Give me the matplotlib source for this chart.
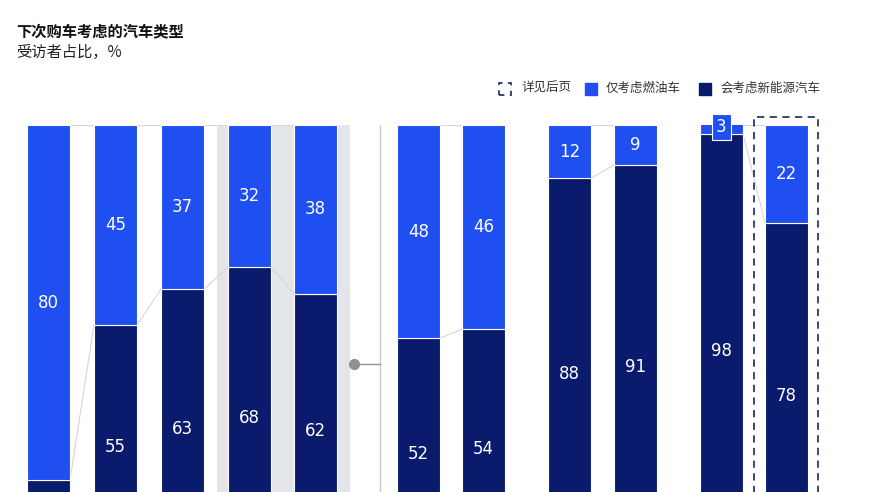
import matplotlib.pyplot as plt
from matplotlib.patches import Rectangle

plt.rcParams['font.family'] = ['Noto Sans CJK SC', 'DejaVu Sans']

# data: share of respondents (%)
fuel_only = [80, 45, 37, 32, 38, 48, 46, 12, 9, 3, 22]
new_energy = [20, 55, 63, 68, 62, 52, 54, 88, 91, 98, 78]
groups = [[0, 1, 2, 3, 4], [5, 6], [7, 8], [9, 10]]

title = "下次购车考虑的汽车类型"
subtitle = "受访者占比，%"
legend_labels = ["详见后页", "仅考虑燃油车", "会考虑新能源汽车"]

blue = "#1f4ff0"
navy = "#0a1a6c"

# bar centres in px / bar pitch
px = [48.5, 115.5, 182.5, 249.5, 315.5, 418.5, 483.5, 569.5, 635.5, 721.5, 786.5]
pitch = 66.5
xs = [(p - 48.5) / pitch for p in px]
w = 43 / pitch

W, H = 870, 492
fig = plt.figure(figsize=(W / 100, H / 100), dpi=100)
top_px, full_px = 125, 444
ax = fig.add_axes([0, (H - top_px - full_px) / H, 1, full_px / H])
ax.set_xlim(-48.5 / pitch, (W - 48.5) / pitch)
ax.set_ylim(0, 100)
ax.axis("off")

def xu(p):
    return (p - 48.5) / pitch

def yu(p):
    return 100 - (p - top_px) / (full_px / 100)

visible_bottom = yu(H)

# grey highlight behind bars 4-5
ax.add_patch(Rectangle((xu(217), 0), xu(350) - xu(217), yu(115), color="#e4e5e8", zorder=0, lw=0))

# separator
ax.plot([xu(380), xu(380)], [0, yu(115)], color="#c8c8c8", lw=1, zorder=1)
ax.plot([xu(354), xu(380)], [yu(364), yu(364)], color="#909090", lw=1, zorder=1)
ax.plot([xu(354)], [yu(364)], "o", color="#909090", ms=7, zorder=2)

ax.bar(xs, new_energy, width=w, color=navy, edgecolor="white", lw=0.8, zorder=3)
ax.bar(xs, fuel_only, width=w, bottom=new_energy, color=blue, edgecolor="white", lw=0.8, zorder=3)

# connectors
for g in groups:
    for a, b in zip(g[:-1], g[1:]):
        ax.plot([xs[a] + w / 2, xs[b] - w / 2], [100, 100], color="#d6d6d6", lw=0.8, zorder=2)
        ax.plot([xs[a] + w / 2, xs[b] - w / 2], [new_energy[a], new_energy[b]], color="#d6d6d6", lw=0.8, zorder=2)

for x, f, n in zip(xs, fuel_only, new_energy):
    if f < 5:
        ax.text(x, n + f / 2, str(f), color="white", ha="center", va="center", fontsize=12,
                family="DejaVu Sans", zorder=5,
                bbox=dict(boxstyle="square,pad=0.25", fc=blue, ec="white", lw=0.8))
    else:
        ax.text(x, n + f / 2, str(f), color="white", ha="center", va="center", fontsize=12,
                family="DejaVu Sans", zorder=5)
    # the bottom of the chart is cropped; skip labels that fall outside it
    if n / 2 > visible_bottom + 2:
        ax.text(x, n / 2, str(n), color="white", ha="center", va="center", fontsize=12,
                family="DejaVu Sans", zorder=5)

# dashed box around last bar
ax.add_patch(Rectangle((xu(754), -5), xu(818) - xu(754), yu(117) + 5, fill=False,
                       ec="#2a3a6a", lw=1.3, ls=(0, (4, 3)), zorder=4, clip_on=False))

# titles
fig.text(16 / W, 1 - 31 / H, title, fontsize=11, fontweight="bold", va="center", color="#111111")
fig.text(16 / W, 1 - 52 / H, subtitle, fontsize=11, va="center", color="#222222")

# legend
ly = 1 - 88 / H
sq = 12
fig.patches.append(Rectangle((499 / W, (H - 95) / H), sq / W, sq / H, fill=False, ec="#2a3a6a",
                             lw=1.3, ls=(0, (3, 3)), transform=fig.transFigure))
fig.text(521 / W, ly, legend_labels[0], fontsize=9, va="center", color="#333333")
fig.patches.append(Rectangle((585 / W, (H - 95) / H), sq / W, sq / H, color=blue, transform=fig.transFigure))
fig.text(606 / W, ly, legend_labels[1], fontsize=9, va="center", color="#333333")
fig.patches.append(Rectangle((699 / W, (H - 95) / H), sq / W, sq / H, color=navy, transform=fig.transFigure))
fig.text(720 / W, ly, legend_labels[2], fontsize=9, va="center", color="#333333")

fig.savefig("out.png", dpi=100, facecolor="white")
